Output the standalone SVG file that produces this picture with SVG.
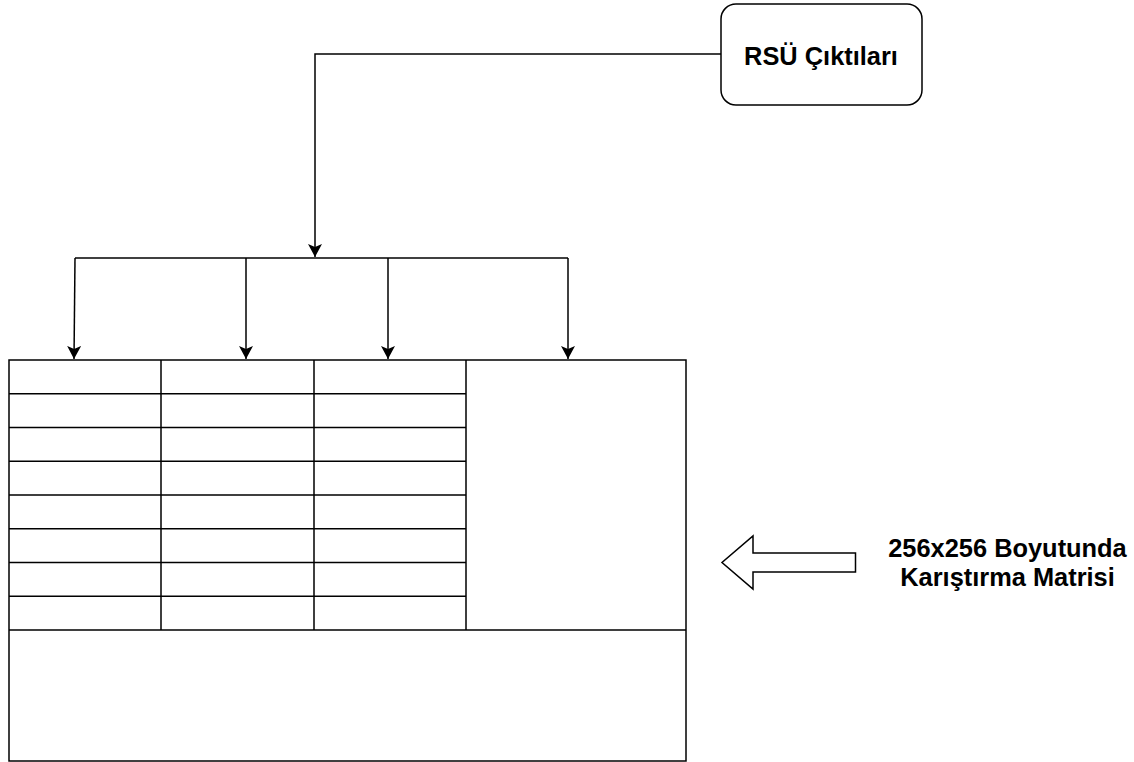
<svg xmlns="http://www.w3.org/2000/svg" width="1134" height="762" viewBox="0 0 1134 762">
<style>
.ln{fill:none;stroke:#000;stroke-width:1.5}
.box{fill:#fff;stroke:#000;stroke-width:1.5}
.t{font-family:"Liberation Sans",Arial,sans-serif;font-weight:bold;font-size:25.4px;fill:#000;text-anchor:middle}
</style>
<defs>
<marker id="ah" viewBox="0 0 13 14" refX="13" refY="7" markerWidth="13" markerHeight="14" markerUnits="userSpaceOnUse" orient="auto">
<path d="M0,0 L13,7 L0,14 L3,7 Z" fill="#000"/>
</marker>
</defs>
<rect width="1134" height="762" fill="#fff"/>
<g id="rsu">
<rect class="box" x="721" y="4" width="201" height="101" rx="15" ry="15"/>
<text class="t" x="821" y="65">RSÜ Çıktıları</text>
</g>
<g id="matrix">
<rect class="box" x="9" y="360" width="677" height="401"/>
<path class="ln" d="M9,630 H686 M161,360 V630 M314,360 V630 M466,360 V630 M9,393.75 H466 M9,427.5 H466 M9,461.25 H466 M9,495 H466 M9,528.75 H466 M9,562.5 H466 M9,596.25 H466"/>
</g>
<g id="block-arrow">
<path class="box" d="M855.5,553 H753 V536 L722,562.5 L753,589 V572 H855.5 Z" stroke-width="1.2"/>
</g>
<g id="label">
<text class="t" x="1007.5" y="557">256x256 Boyutunda</text>
<text class="t" x="1007.5" y="586">Karıştırma Matrisi</text>
</g>
<g id="connectors">
<path class="ln" d="M721,54 H315 V257" marker-end="url(#ah)"/>
<path class="ln" d="M75,258 H568"/>
<path class="ln" d="M75,258 L74,359" marker-end="url(#ah)"/>
<path class="ln" d="M246,258 V359" marker-end="url(#ah)"/>
<path class="ln" d="M388,258 V359" marker-end="url(#ah)"/>
<path class="ln" d="M568,258 V359" marker-end="url(#ah)"/>
</g>
</svg>
